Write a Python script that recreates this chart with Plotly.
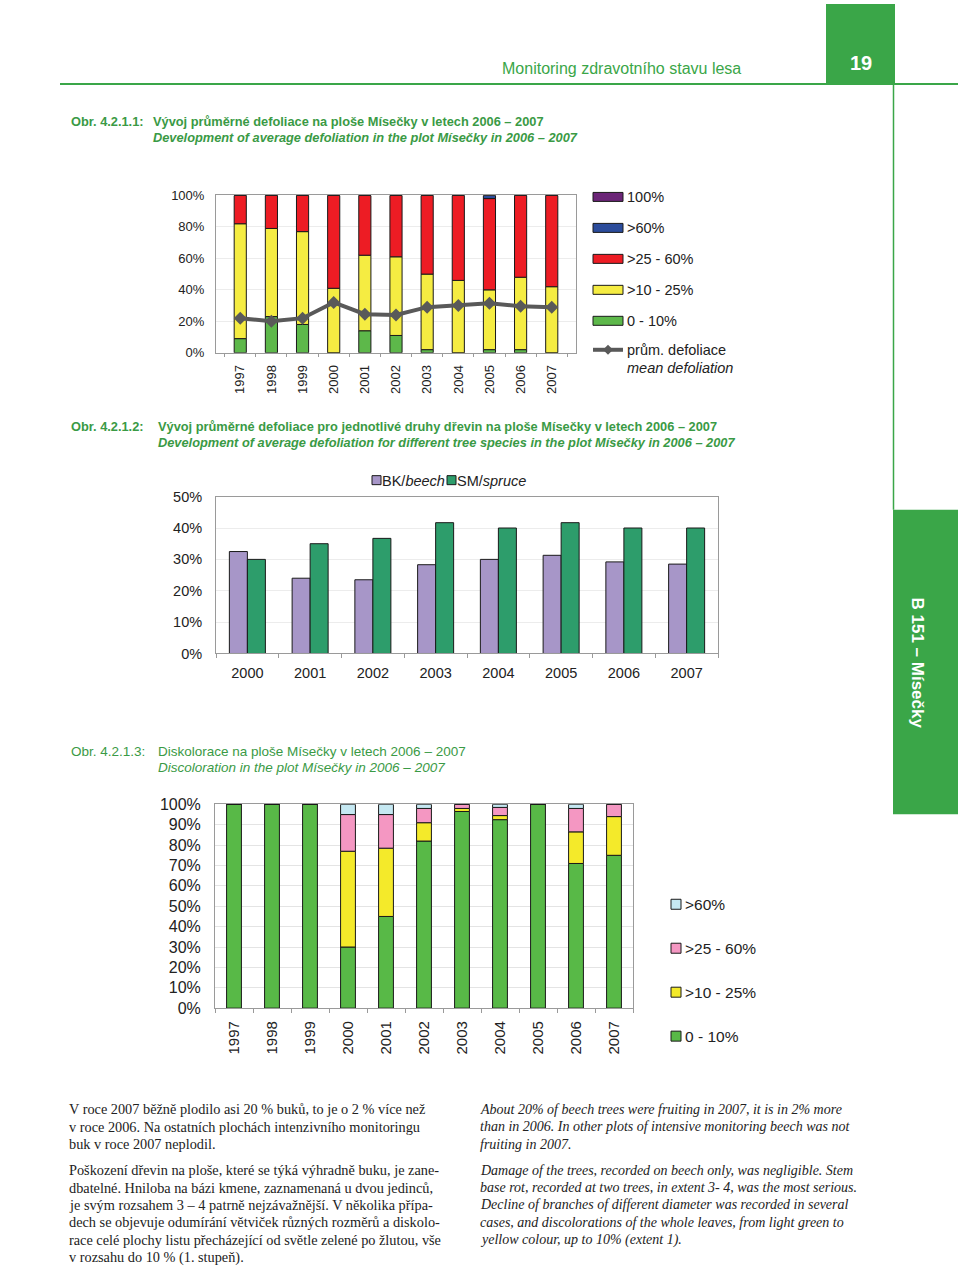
import numpy as np
import plotly.graph_objects as go

W, H = 960, 1267
# the photographed page is offset/compressed slightly in y; map target pixel -> figure fraction
Y_OFF, Y_SCALE = 7.9, 0.9875
def X(px): return px / W
def Y(py): return 1 - ((py - Y_OFF) / Y_SCALE) / H

# ---------------- data ----------------
years1 = ["1997", "1998", "1999", "2000", "2001", "2002", "2003", "2004", "2005", "2006", "2007"]
def1_0_10 = [9, 23, 18, 0, 14, 11, 2, 0, 2, 2, 0]
def1_10_25 = [73, 56, 59, 41, 48, 50, 48, 46, 38, 46, 42]
def1_25_60 = [18, 21, 23, 59, 38, 39, 50, 54, 58, 52, 58]
def1_60 = [0, 0, 0, 0, 0, 0, 0, 0, 2, 0, 0]
def1_100 = [0, 0, 0, 0, 0, 0, 0, 0, 0, 0, 0]
mean_def = [22, 20, 22, 32, 24.5, 24, 29, 30, 31.5, 29.5, 29]
names1 = ["0 - 10%", ">10 - 25%", ">25 - 60%", ">60%", "100%"]
colors1 = ["#5db84a", "#f5ec42", "#ed1c24", "#2b4c9b", "#6b2577"]
ticks1 = [0, 20, 40, 60, 80, 100]

years2 = ["2000", "2001", "2002", "2003", "2004", "2005", "2006", "2007"]
beech = [32.5, 24, 23.5, 28.3, 30, 31.3, 29.2, 28.5]
spruce = [30, 35, 36.7, 41.7, 40, 41.7, 40, 40]
names2 = ["BK/<i>beech</i>", "SM/<i>spruce</i>"]
colors2 = ["#a796c8", "#2d9d6b"]
ticks2 = [0, 10, 20, 30, 40, 50]

years3 = years1
dis_0_10 = [100, 100, 100, 30, 45, 82, 96.5, 92.5, 100, 71, 75]
dis_10_25 = [0, 0, 0, 47, 33.5, 9, 1.5, 2, 0, 15.5, 19]
dis_25_60 = [0, 0, 0, 18, 16.5, 7, 2, 4, 0, 11.5, 6]
dis_60 = [0, 0, 0, 5, 5, 2, 0, 1.5, 0, 2, 0]
names3 = ["0 - 10%", ">10 - 25%", ">25 - 60%", ">60%"]
colors3 = ["#58b947", "#f4ea2a", "#f497c2", "#c5e8f2"]
ticks3 = [0, 10, 20, 30, 40, 50, 60, 70, 80, 90, 100]

GREEN = "#3aa648"
CAPTION = "#3a9a45"
SANS = "Liberation Sans, Arial, sans-serif"
SERIF = "Liberation Serif, Times New Roman, serif"
OUTLINE = dict(color="#1a1a1a", width=1)

fig = go.Figure()

# ---------------- chart 1 ----------------
series1 = [def1_0_10, def1_10_25, def1_25_60, def1_60, def1_100]
base = np.zeros(len(years1))
for vals, nm, col in zip(series1, names1, colors1):
    v = np.array(vals, dtype=float)
    fig.add_trace(go.Bar(x=years1, y=v, base=base.copy(), name=nm, marker=dict(color=col, line=OUTLINE),
                         width=0.39, offset=-0.195, xaxis="x", yaxis="y", showlegend=False))
    base = base + v
fig.add_trace(go.Scatter(x=years1, y=mean_def, mode="lines+markers", line=dict(color="#595959", width=4),
                         marker=dict(symbol="diamond", size=10, color="#595959"), xaxis="x", yaxis="y",
                         showlegend=False))

# ---------------- chart 2 ----------------
for vals, nm, col, off in zip([beech, spruce], names2, colors2, [-0.287, 0.0]):
    fig.add_trace(go.Bar(x=years2, y=vals, name=nm, marker=dict(color=col, line=OUTLINE),
                         width=0.287, offset=off, xaxis="x2", yaxis="y2", showlegend=False))

# ---------------- chart 3 ----------------
series3 = [dis_0_10, dis_10_25, dis_25_60, dis_60]
base = np.zeros(len(years3))
for vals, nm, col in zip(series3, names3, colors3):
    v = np.array(vals, dtype=float)
    fig.add_trace(go.Bar(x=years3, y=v, base=base.copy(), name=nm, marker=dict(color=col, line=OUTLINE),
                         width=0.39, offset=-0.195, xaxis="x3", yaxis="y3", showlegend=False))
    base = base + v

def pct(t): return [f"{v}%" for v in t]

axis_common = dict(showline=True, linecolor="#9a9a9a", linewidth=1, mirror=True, zeroline=False)
fig.update_layout(
    width=W, height=H, margin=dict(l=0, r=0, t=0, b=0), barmode="overlay",
    paper_bgcolor="white", plot_bgcolor="white", showlegend=False,
    font=dict(family=SANS, color="#222"),
    xaxis=dict(domain=[X(216), X(576)], anchor="y", type="category", tickangle=-90,
               tickfont=dict(size=13, color="#222"), ticks="outside", tickson="boundaries", ticklen=3,
               tickcolor="#9a9a9a", ticklabelstandoff=6, showgrid=False, **axis_common),
    yaxis=dict(domain=[Y(353), Y(195.5)], anchor="x", range=[0, 100], tickmode="array",
               tickvals=ticks1, ticktext=pct(ticks1), tickfont=dict(size=13, color="#222"),
               showgrid=True, gridcolor="#ececec", ticklabelstandoff=8, **axis_common),
    xaxis2=dict(domain=[X(216), X(718)], anchor="y2", type="category",
                tickfont=dict(size=14.5, color="#222"), ticks="outside", tickson="boundaries", ticklen=4,
                tickcolor="#9a9a9a", ticklabelstandoff=6, showgrid=False, **axis_common),
    yaxis2=dict(domain=[Y(654), Y(497)], anchor="x2", range=[0, 50], tickmode="array",
                tickvals=ticks2, ticktext=pct(ticks2), tickfont=dict(size=14.5, color="#222"),
                showgrid=True, gridcolor="#ececec", ticklabelstandoff=10, **axis_common),
    xaxis3=dict(domain=[X(215), X(633)], anchor="y3", type="category", tickangle=-90,
                tickfont=dict(size=15, color="#222"), ticks="outside", tickson="boundaries", ticklen=4,
                tickcolor="#9a9a9a", ticklabelstandoff=6, showgrid=False, **axis_common),
    yaxis3=dict(domain=[Y(1009), Y(805)], anchor="x3", range=[0, 100], tickmode="array",
                tickvals=ticks3, ticktext=pct(ticks3), tickfont=dict(size=16, color="#222"),
                showgrid=True, gridcolor="#e4e4e4", ticklabelstandoff=10, **axis_common),
)

shapes = []
ann = []
def text(px, py, s, size, color="#222", family=SANS, xanchor="left", yanchor="middle", angle=0):
    ann.append(dict(x=X(px), y=Y(py), xref="paper", yref="paper", text=s, showarrow=False,
                    xanchor=xanchor, yanchor=yanchor, textangle=angle,
                    font=dict(size=size, color=color, family=family)))
def rect(x0, y0, x1, y1, fill, line=None, lw=0):
    shapes.append(dict(type="rect", xref="paper", yref="paper", x0=X(x0), x1=X(x1), y0=Y(y1), y1=Y(y0),
                       fillcolor=fill, line=dict(color=line or fill, width=lw)))
def line(x0, y0, x1, y1, color, w):
    shapes.append(dict(type="line", xref="paper", yref="paper", x0=X(x0), x1=X(x1), y0=Y(y0), y1=Y(y1),
                       line=dict(color=color, width=w)))

# header
rect(826, 4, 895, 84, GREEN)
line(60, 84, 958, 84, GREEN, 2)
line(893.5, 84, 893.5, 510, GREEN, 1.5)
text(861, 63, "<b>19</b>", 20, "white", SANS, xanchor="center")
text(743, 68, "Monitoring zdravotního stavu lesa", 16, GREEN, SANS, xanchor="right")

# side tab
rect(893, 510, 958, 815, GREEN)
text(918, 663, "<b>B 151 – Mísečky</b>", 17, "white", SANS, xanchor="center", angle=90)

# captions
CS = 12.8
text(69, 122, "<b>Obr. 4.2.1.1:</b>", CS, CAPTION)
text(151, 122, "<b>Vývoj průměrné defoliace na ploše Mísečky v letech 2006 – 2007</b>", CS, CAPTION)
text(151, 138, "<b><i>Development of average defoliation in the plot Mísečky in 2006 – 2007</i></b>", CS, CAPTION)
text(69, 427, "<b>Obr. 4.2.1.2:</b>", CS, CAPTION)
text(156, 427, "<b>Vývoj průměrné defoliace pro jednotlivé druhy dřevin na ploše Mísečky v letech 2006 – 2007</b>", CS, CAPTION)
text(156, 443, "<b><i>Development of average defoliation for different tree species in the plot Mísečky in 2006 – 2007</i></b>", CS, CAPTION)
text(69, 752, "Obr. 4.2.1.3:", 13.5, CAPTION)
text(156, 752, "Diskolorace na ploše Mísečky v letech 2006 – 2007", 13.5, CAPTION)
text(156, 768, "<i>Discoloration in the plot Mísečky in 2006 – 2007</i>", 13.5, CAPTION)

# legend chart 1 (top to bottom: 100%, >60%, >25-60%, >10-25%, 0-10%)
for i, k in enumerate(range(len(names1) - 1, -1, -1)):
    cy = 197 + i * 31
    rect(593, cy - 4.5, 623, cy + 4.5, colors1[k], "#1a1a1a", 1)
    text(625, cy, names1[k], 14.5)
line(593, 350, 623, 350, "#595959", 4)
shapes.append(dict(type="path", xref="paper", yref="paper",
                   path=f"M {X(608)} {Y(345)} L {X(613)} {Y(350)} L {X(608)} {Y(355)} L {X(603)} {Y(350)} Z",
                   fillcolor="#595959", line=dict(width=0)))
text(625, 350, "prům. defoliace", 14.5)
text(625, 368, "<i>mean defoliation</i>", 14.5)

# legend chart 2
rect(372, 476, 381, 485, colors2[0], "#1a1a1a", 1)
text(380, 481, names2[0], 14.5)
rect(447, 476, 456, 485, colors2[1], "#1a1a1a", 1)
text(455, 481, names2[1], 14.5)

# legend chart 3 (top to bottom: >60%, >25-60%, >10-25%, 0-10%)
for i, k in enumerate(range(len(names3) - 1, -1, -1)):
    cy = 905 + i * 44
    rect(671, cy - 5, 681, cy + 5, colors3[k], "#1a1a1a", 1)
    text(683, cy, names3[k], 15.5)

# body text
left_lines = [
    "V roce 2007 běžně plodilo asi 20 % buků, to je o 2 % více než",
    "v roce 2006. Na ostatních plochách intenzivního monitoringu",
    "buk v roce 2007 neplodil.",
    "Poškození dřevin na ploše, které se týká výhradně buku, je zane-",
    "dbatelné. Hniloba na bázi kmene, zaznamenaná u dvou jedinců,",
    "je svým rozsahem 3 – 4 patrně nejzávažnější. V několika přípa-",
    "dech se objevuje odumírání větviček různých rozměrů a diskolo-",
    "race celé plochy listu přecházející od světle zelené po žlutou, vše",
    "v rozsahu do 10 % (1. stupeň).",
]
right_lines = [
    "About 20% of beech trees were fruiting in 2007, it is in 2% more",
    "than in 2006. In other plots of intensive monitoring beech was not",
    "fruiting in 2007.",
    "Damage of the trees, recorded on beech only, was negligible. Stem",
    "base rot, recorded at two trees, in extent 3- 4, was the most serious.",
    "Decline of branches of different diameter was recorded in several",
    "cases, and discolorations of the whole leaves, from light green to",
    "yellow colour, up to 10% (extent 1).",
]
ys_left = [1110, 1127.5, 1145, 1171, 1188.5, 1206, 1223.5, 1241, 1258.5]
ys_right = [1110, 1127.5, 1145, 1171, 1188.5, 1206, 1223.5, 1241]
for s, yy in zip(left_lines, ys_left):
    text(67, yy, s, 14.3, "#222", SERIF)
for s, yy in zip(right_lines, ys_right):
    text(478, yy, f"<i>{s}</i>", 14, "#222", SERIF)

fig.update_layout(shapes=shapes, annotations=ann)
fig.write_html("out.html")
